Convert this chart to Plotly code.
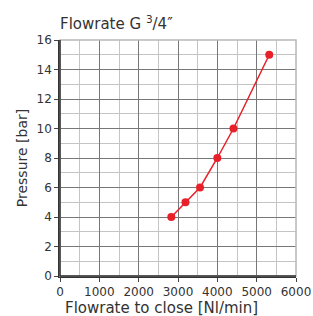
import plotly.graph_objects as go

flow = [2830, 3190, 3560, 4000, 4410, 5320]
pressure = [4, 5, 6, 8, 10, 15]
x_ticks = [0, 1000, 2000, 3000, 4000, 5000, 6000]
y_ticks = [0, 2, 4, 6, 8, 10, 12, 14, 16]

fig = go.Figure()
fig.add_trace(go.Scatter(
    x=flow, y=pressure, mode="lines+markers",
    line=dict(color="#e8202a", width=1.5),
    marker=dict(color="#e8202a", size=8),
    showlegend=False, cliponaxis=False,
))

font = "DejaVu Sans, sans-serif"
W, H = 313, 316
fig.update_layout(
    width=W, height=H,
    margin=dict(l=60, r=17, t=40, b=40, autoexpand=False),
    paper_bgcolor="white", plot_bgcolor="white",
    font=dict(family=font, color="#333", size=12),
    title=dict(text="Flowrate G <sup>3</sup>/4″", x=60/W, xref="container", xanchor="left",
               y=1 - 29/H, yref="container", yanchor="bottom", font=dict(size=15)),
)
fig.update_xaxes(
    range=[0, 6000], tickvals=x_ticks, ticks="outside", ticklen=4, automargin=False,
    showline=True, linecolor="#333", linewidth=1.5, mirror=False,
    showgrid=True, gridcolor="#777", gridwidth=1,
    minor=dict(dtick=500, showgrid=True, gridcolor="#c4c4c4", gridwidth=1),
    zeroline=False,
)
fig.update_yaxes(
    range=[0, 16], tickvals=y_ticks, ticks="outside", ticklen=4, automargin=False,
    showline=True, linecolor="#333", linewidth=1.5,
    showgrid=True, gridcolor="#777", gridwidth=1,
    minor=dict(dtick=1, showgrid=True, gridcolor="#c4c4c4", gridwidth=1),
    zeroline=False,
    title=dict(text="Pressure [bar]", font=dict(size=14), standoff=6),
)
fig.add_annotation(text="Flowrate to close [Nl/min]", xref="paper", yref="paper",
                   x=(161 - 60) / 236, y=-0.135, xanchor="center", yanchor="middle",
                   showarrow=False, font=dict(size=15))
fig.add_shape(type="rect", xref="paper", yref="paper", x0=0, y0=0, x1=1, y1=1,
              line=dict(color="#b8b8b8", width=1.5), layer="above")
fig.add_shape(type="line", xref="paper", yref="paper", x0=0, y0=0, x1=0, y1=1,
              line=dict(color="#333", width=1.5), layer="above")
fig.add_shape(type="line", xref="paper", yref="paper", x0=0, y0=0, x1=1, y1=0,
              line=dict(color="#333", width=1.5), layer="above")
fig.write_html("out.html", config={"displayModeBar": False},
               post_script="document.body.style.margin='0';document.body.style.overflow='hidden';")
